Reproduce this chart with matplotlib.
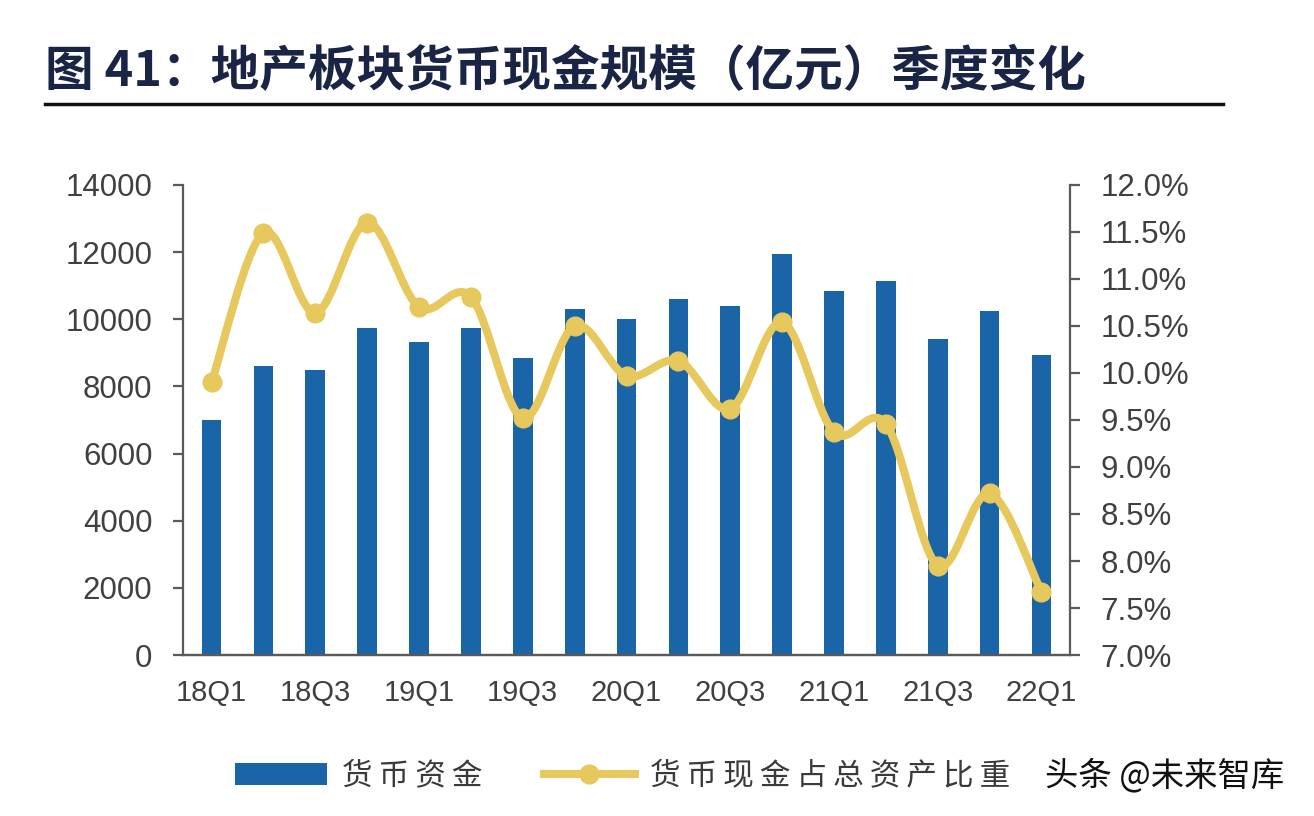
import matplotlib.pyplot as plt
from matplotlib.path import Path
from matplotlib.patches import PathPatch, Patch
from matplotlib.lines import Line2D
from matplotlib.ticker import FuncFormatter

plt.rcParams['font.family'] = ['Liberation Sans', 'Noto Sans CJK SC', 'DejaVu Sans']

quarters = ['18Q1', '18Q2', '18Q3', '18Q4', '19Q1', '19Q2', '19Q3', '19Q4',
            '20Q1', '20Q2', '20Q3', '20Q4', '21Q1', '21Q2', '21Q3', '21Q4', '22Q1']
cash = [7000, 8600, 8490, 9740, 9330, 9730, 8840, 10300,
        10000, 10600, 10400, 11950, 10850, 11150, 9400, 10250, 8950]
cash_ratio = [9.90, 11.49, 10.64, 11.60, 10.70, 10.81, 9.52, 10.50,
              9.97, 10.13, 9.62, 10.54, 9.37, 9.46, 7.95, 8.72, 7.67]
legend_labels = ['货币资金', '货币现金占总资产比重']

bar_color = '#1A64A8'
line_color = '#E6C85C'
axis_color = '#5A5A5A'
text_color = '#404040'

fig = plt.figure(figsize=(13.14, 8.16), dpi=100)
ax = fig.add_axes([0.1393, 0.1973, 0.675, 0.576])
ax2 = ax.twinx()

x = list(range(len(quarters)))
ax.bar(x, cash, width=0.38, color=bar_color, zorder=2)
ax.set_xlim(-0.55, len(quarters) - 0.45)
ax.set_ylim(0, 14000)
ax.set_yticks(range(0, 14001, 2000))
ax.set_xticks(x[::2])
ax.set_xticklabels(quarters[::2])

# smoothed line (Catmull-Rom as cubic Bezier) through the data points
verts = [(x[0], cash_ratio[0])]
codes = [Path.MOVETO]
n = len(x)
for i in range(n - 1):
    p0 = (x[max(i - 1, 0)], cash_ratio[max(i - 1, 0)])
    p1 = (x[i], cash_ratio[i])
    p2 = (x[i + 1], cash_ratio[i + 1])
    p3 = (x[min(i + 2, n - 1)], cash_ratio[min(i + 2, n - 1)])
    c1 = (p1[0] + (p2[0] - p0[0]) / 6, p1[1] + (p2[1] - p0[1]) / 6)
    c2 = (p2[0] - (p3[0] - p1[0]) / 6, p2[1] - (p3[1] - p1[1]) / 6)
    verts += [c1, c2, p2]
    codes += [Path.CURVE4] * 3
ax2.add_patch(PathPatch(Path(verts, codes), facecolor='none', edgecolor=line_color,
                        lw=5.8, capstyle='round', joinstyle='round', zorder=3))
ax2.plot(x, cash_ratio, linestyle='none', marker='o', markersize=13.5,
         color=line_color, zorder=4)
ax2.set_ylim(7.0, 12.0)
ax2.set_yticks([7.0 + 0.5 * k for k in range(11)])
ax2.yaxis.set_major_formatter(FuncFormatter(lambda v, p: f'{v:.1f}%'))

for a in (ax, ax2):
    a.spines['top'].set_visible(False)
    for s in ('left', 'right', 'bottom'):
        a.spines[s].set_color(axis_color)
        a.spines[s].set_linewidth(1.6)
    a.tick_params(axis='y', colors=axis_color, labelcolor=text_color,
                  labelsize=22.5, length=7, width=1.6, pad=15)
ax.tick_params(axis='x', length=0, labelsize=21, labelcolor=text_color, pad=17)
ax.set_zorder(ax2.get_zorder() - 1)
ax2.patch.set_visible(False)
ax.spines['right'].set_visible(False)
ax2.spines['left'].set_visible(False)

# title and rule
fig.text(0.034, 0.912, '图 41：地产板块货币现金规模（亿元）季度变化',
         fontsize=35, fontweight='bold', color='#1A2545',
         family=['Noto Sans CJK SC', 'DejaVu Sans'], va='center', ha='left')
fig.add_artist(Line2D([0.034, 0.931], [0.872, 0.872], color='#111111', lw=2.5))

# legend (labels letter-spaced like the original)
spaced = ['\u2009'.join(lab) for lab in legend_labels]
handles = [Patch(facecolor=bar_color),
           Line2D([], [], color=line_color, lw=5.8, marker='o', markersize=13.5)]
leg = fig.legend(handles, spaced, ncol=2,
                 loc='center left', bbox_to_anchor=(0.158, 0.049), frameon=False,
                 prop={'family': ['Noto Sans CJK SC', 'DejaVu Sans'], 'size': 22},
                 handlelength=3.0, handleheight=0.7, columnspacing=2.0,
                 handletextpad=0.5, labelcolor='#3a3a3a')
fig.text(0.795, 0.049, '头条 @未来智库', fontsize=24, color='#111111',
         family=['Noto Sans CJK SC'], va='center', ha='left')

fig.savefig('out.png', dpi=100, facecolor='white')
